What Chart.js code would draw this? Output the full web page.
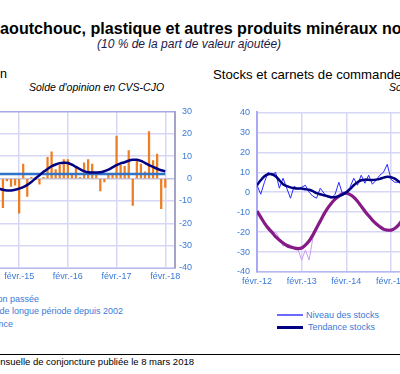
<!DOCTYPE html>
<html>
<head>
<meta charset="utf-8">
<script src="https://cdn.jsdelivr.net/npm/chart.js@4/dist/chart.umd.min.js"></script>
<style>
  html, body { margin: 0; padding: 0; background: #fff; }
  body { width: 400px; height: 374px; position: relative; overflow: hidden; font-family: "Liberation Sans", Arial, sans-serif; }
  .t { position: absolute; white-space: nowrap; line-height: 1; }
  .blue { color: #3a7ad6; }
  canvas { position: absolute; }
</style>
</head>
<body>
<div class="t" style="left:-11.5px; top:20px; font-size:16.1px; font-weight:bold; color:#000;">Caoutchouc, plastique et autres produits minéraux non métalliques</div>
<div class="t" style="left:97px; top:38px; font-size:12px; font-style:italic; color:#1a1a4a;">(10 % de la part de valeur ajoutée)</div>

<div class="t" style="right:393px; top:68px; font-size:12.5px; color:#000;">Évolution de la production</div>
<div class="t" style="left:29px; top:82px; font-size:10.5px; font-style:italic; color:#000;">Solde d'opinion en CVS-CJO</div>

<div class="t" style="left:213px; top:68px; font-size:13.2px; color:#000;">Stocks et carnets de commandes</div>
<div class="t" style="left:389px; top:82px; font-size:10.5px; font-style:italic; color:#000;">Solde d'opinion en CVS-CJO</div>

<canvas id="left-chart" style="left:-10px; top:100px;" width="204" height="190"></canvas>
<canvas id="right-chart" style="left:220px; top:100px;" width="200" height="190"></canvas>

<div class="t blue" style="right:361px; top:295px; font-size:9px;">Production passée</div>
<div class="t blue" style="right:277px; top:307px; font-size:9px;">Moyenne de longue période depuis 2002</div>
<div class="t blue" style="right:387px; top:320px; font-size:9px;">Tendance</div>

<div style="position:absolute; left:277px; top:314px; width:26px; height:2px; background:#6a6aff;"></div>
<div class="t blue" style="left:306px; top:311px; font-size:9px;">Niveau des stocks</div>
<div style="position:absolute; left:277px; top:326px; width:26px; height:3px; background:#000080;"></div>
<div class="t blue" style="left:308px; top:323px; font-size:9px;">Tendance stocks</div>

<div style="position:absolute; left:0; top:354px; width:400px; height:1px; background:#000;"></div>
<div class="t" style="right:206px; top:357px; font-size:9.5px; color:#000;">Source : Banque de France – Enquête mensuelle de conjoncture publiée le 8 mars 2018</div>

<script>
// ---- left panel: production (monthly, Sep-14 .. Feb-18) ----
const leftMonths = [
  'sept.-14','oct.-14','nov.-14','déc.-14',
  'janv.-15','févr.-15','mars-15','avr.-15','mai-15','juin-15','juil.-15','août-15','sept.-15','oct.-15','nov.-15','déc.-15',
  'janv.-16','févr.-16','mars-16','avr.-16','mai-16','juin-16','juil.-16','août-16','sept.-16','oct.-16','nov.-16','déc.-16',
  'janv.-17','févr.-17','mars-17','avr.-17','mai-17','juin-17','juil.-17','août-17','sept.-17','oct.-17','nov.-17','déc.-17',
  'janv.-18','févr.-18'
];
const productionPast = [
  13, -13, -1, -3.5,
  -3, -15.5, 6.5, -8, 0.5, -0.5, -2.5, 0.5, 9.5, 12, 4, 6,
  8.5, 8.5, 2, 5, 0.5, 7, 8.5, 6.5, 2, -5.5, -1.5, 2,
  2, 19, 6, 5.5, 12.5, -12, 8, 6.5, 3, 21, 8, 11,
  -13.5, -4
];
const productionTrend = [
  -4.5, -5, -5.3, -5.3,
  -5, -4.5, -3.8, -2.8, -1.5, 0, 1.5, 3, 4.3, 5.5, 6.3, 6.9,
  7.1, 7, 6.2, 5.2, 4.2, 3.3, 2.8, 2.7, 2.7, 2.8, 3.3, 4,
  5, 6, 6.8, 7.3, 8, 8.4, 8.4, 7.9, 7, 6, 5.2, 4.4,
  3.7, 3.2
];
const longTermMean = 2.1;
const leftTickLabels = ['févr.-15', 'févr.-16', 'févr.-17', 'févr.-18'];

// ---- right panel: stocks and order books (monthly, Feb-12 ..) ----
const rightMonths = [
  'févr.-12','mars-12','avr.-12','mai-12','juin-12','juil.-12','août-12','sept.-12','oct.-12','nov.-12','déc.-12','janv.-13',
  'févr.-13','mars-13','avr.-13','mai-13','juin-13','juil.-13','août-13','sept.-13','oct.-13','nov.-13','déc.-13','janv.-14',
  'févr.-14','mars-14','avr.-14','mai-14','juin-14','juil.-14','août-14','sept.-14','oct.-14','nov.-14','déc.-14','janv.-15',
  'févr.-15','mars-15','avr.-15','mai-15'
];
const stocksLevel = [
  3.5, -1, 5, 10, 8.5, 10, 2, 7, 2, -3, 3, 1.5,
  2.5, 3.5, 0, -2, -3, 2, -0.5, -2.5, -3, -1, 5, -1,
  0, 2.5, 7, 3.5, 8.5, 4.5, 8.5, 4, 6, 8.5, 10, 14,
  6.5, 5, 5, 4
];
const stocksTrend = [
  3.5, 6, 8, 9, 9, 8, 6, 4, 3, 2.4, 2, 1.8,
  1.8, 1.5, 1.2, 0.5, -0.5, -1, -1.5, -2, -2.5, -2.5, -2, -1.2,
  0, 1.5, 3.5, 5, 6, 6.3, 6.2, 6.1, 6.3, 6.7, 7.3, 7.7,
  7.5, 6.8, 5.5, 4.5
];
const ordersLevel = [
  -9.5, -12, -16, -18.5, -21, -20, -23, -27, -26, -26.5, -27.5, -28.5,
  -34, -29, -34, -23, -18.5, -14, -11.5, -7.5, -5, -4, -1.5, -1,
  -1, -0.5, -3, -5, -7.5, -9, -12, -14.5, -15.5, -17, -19.5, -19,
  -20, -18, -16, -14
];
const ordersTrend = [
  -9.5, -12.5, -15.5, -18, -20, -22.3, -24, -25.5, -26.7, -27.5, -28, -28.3,
  -28, -26.5, -24.5, -21.5, -18, -14.5, -11, -8, -5.5, -3.5, -2, -0.8,
  -0.5, -1.2, -2.5, -4.5, -7, -9.5, -11.8, -14, -15.8, -17.3, -18.5, -19,
  -19, -18.2, -16.5, -14
];
const rightTickLabels = ['févr.-12', 'févr.-13', 'févr.-14', 'févr.-15'];

const tickFont = { family: '"Liberation Sans", Arial, sans-serif', size: 9 };
const tickColor = '#3a7ad6';
const gridColor = '#d6d6f6';

function toPoints(values) {
  return values.map((v, i) => ({ x: i, y: v }));
}
function februaryIndexes(months) {
  return months.map((m, i) => m.startsWith('févr.') ? i : -1).filter(i => i >= 0);
}

// left chart: bars + trend + long term mean
const leftTicks = februaryIndexes(leftMonths);
new Chart(document.getElementById('left-chart'), {
  type: 'bar',
  data: {
    datasets: [
      {
        type: 'line',
        label: 'Tendance',
        data: toPoints(productionTrend),
        borderColor: '#000080',
        borderWidth: 2.5,
        pointRadius: 0,
        tension: 0.3
      },
      {
        type: 'line',
        label: 'Moyenne de longue période depuis 2002',
        data: [{ x: 0, y: longTermMean }, { x: leftMonths.length - 1, y: longTermMean }],
        borderColor: '#2f74c8',
        borderWidth: 2.5,
        pointRadius: 0
      },
      {
        label: 'Production passée',
        data: toPoints(productionPast),
        backgroundColor: '#ef7d22',
        barThickness: 1.6
      }
    ]
  },
  options: {
    responsive: false,
    animation: false,
    layout: { padding: { left: 6, right: 2, top: 11.5, bottom: 2 } },
    plugins: { legend: { display: false }, tooltip: { enabled: false } },
    scales: {
      x: {
        type: 'linear',
        offset: false,
        min: -0.7,
        max: 43.4,
        afterBuildTicks: scale => { scale.ticks = leftTicks.map(v => ({ value: v })); },
        afterFit: scale => { scale.height = 20; },
        ticks: {
          autoSkip: false, maxRotation: 0, padding: 3.5,
          font: tickFont, color: tickColor,
          callback: (value, index) => leftTickLabels[index]
        },
        grid: { offset: false, color: gridColor, lineWidth: 1.5, drawTicks: false },
        border: { color: '#b8b8ec', width: 1 }
      },
      y: {
        position: 'right',
        min: -40,
        max: 30,
        afterFit: scale => { scale.width = 17; },
        ticks: { stepSize: 10, crossAlign: 'far', padding: 2, font: tickFont, color: tickColor },
        grid: {
          color: ctx => ctx.tick && ctx.tick.value === 30 ? '#a8a8e6' : (ctx.tick && ctx.tick.value === 0 ? '#c4c4de' : gridColor),
          lineWidth: 1.5,
          drawTicks: false
        },
        border: { color: '#a4a4c8', width: 2 }
      }
    }
  }
});

// right chart: stocks and order books
const rightTicks = februaryIndexes(rightMonths);
new Chart(document.getElementById('right-chart'), {
  type: 'line',
  data: {
    datasets: [
      {
        label: 'Tendance stocks',
        data: toPoints(stocksTrend),
        borderColor: '#000080',
        borderWidth: 2.5,
        pointRadius: 0,
        tension: 0.3
      },
      {
        label: 'Niveau des stocks',
        data: toPoints(stocksLevel),
        borderColor: '#2a2aff',
        borderWidth: 1,
        pointRadius: 0
      },
      {
        label: 'Tendance carnets',
        data: toPoints(ordersTrend),
        borderColor: '#861a86',
        borderWidth: 3.2,
        pointRadius: 0,
        tension: 0.3
      },
      {
        label: 'Niveau des carnets',
        data: toPoints(ordersLevel),
        borderColor: '#c99cf0',
        borderWidth: 1,
        pointRadius: 0
      }
    ]
  },
  options: {
    responsive: false,
    animation: false,
    layout: { padding: { left: 0, right: 0, top: 12, bottom: 2 } },
    plugins: { legend: { display: false }, tooltip: { enabled: false } },
    scales: {
      x: {
        type: 'linear',
        min: 0,
        max: 43.8,
        afterBuildTicks: scale => { scale.ticks = rightTicks.map(v => ({ value: v })); },
        afterFit: scale => { scale.height = 16; },
        ticks: {
          autoSkip: false, maxRotation: 0, padding: 4,
          font: tickFont, color: tickColor,
          callback: (value, index) => rightTickLabels[index]
        },
        grid: { color: gridColor, lineWidth: 1.5, drawTicks: false },
        border: { color: '#b8b8f0', width: 1.5 }
      },
      y: {
        min: -40,
        max: 40,
        afterFit: scale => { scale.width = 37; },
        ticks: { stepSize: 10, padding: 7, font: tickFont, color: tickColor },
        grid: { color: gridColor, lineWidth: 1.5, drawTicks: false },
        border: { color: '#a8a8f4', width: 2 }
      }
    }
  }
});
</script>
</body>
</html>
